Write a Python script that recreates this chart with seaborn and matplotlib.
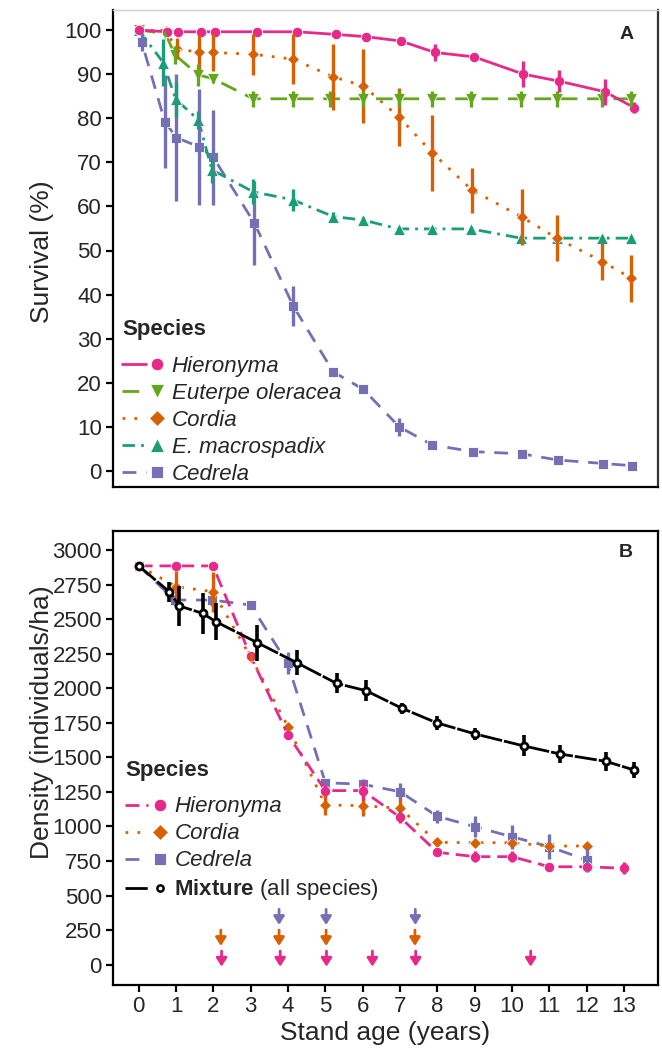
import numpy as np
import pandas as pd
import matplotlib
matplotlib.use("Agg")
import matplotlib.pyplot as plt
import seaborn as sns
from matplotlib.lines import Line2D
from matplotlib.legend_handler import HandlerTuple

sns.set_theme(style="ticks")
plt.rcParams['font.family'] = ['Liberation Sans', 'DejaVu Sans']
plt.rcParams['mathtext.fontset'] = 'custom'
plt.rcParams['mathtext.rm'] = 'Liberation Sans'
plt.rcParams['mathtext.it'] = 'Liberation Sans:italic'
plt.rcParams['mathtext.bf'] = 'Liberation Sans:bold'

# ---------------- Panel A: survival (%) ----------------
hier_A_age = [0, 0.75, 1.06, 1.67, 2.04, 3.16, 4.23, 5.28, 6.08, 7.02, 7.94, 8.99, 10.30, 11.26, 12.49, 13.27]
hier_A_val = [100, 99.6, 99.6, 99.6, 99.6, 99.6, 99.6, 99.0, 98.5, 97.5, 94.9, 93.9, 90.0, 88.4, 86.0, 82.4]
hier_A_err = [0, 0.3, 0.3, 0.3, 0.3, 0.3, 0.3, 0.4, 0.5, 0.8, 2.0, 0.7, 2.9, 2.5, 2.9, 1.2]

eut_A_age = [0, 0.71, 0.98, 1.60, 1.98, 3.07, 4.13, 5.12, 6.02, 6.96, 7.85, 8.90, 10.24, 11.20, 12.42, 13.20]
eut_A_val = [100, 99.2, 94.3, 89.8, 89.0, 84.4, 84.4, 84.4, 84.4, 84.4, 84.4, 84.4, 84.4, 84.4, 84.4, 84.4]
eut_A_err = [0, 0.5, 2.0, 2.5, 1.0, 1.8, 1.8, 1.8, 1.8, 1.8, 1.8, 1.8, 1.8, 1.8, 1.8, 1.8]

cor_A_age = [0, 0.72, 1.02, 1.62, 1.98, 3.07, 4.13, 5.21, 6.02, 6.97, 7.86, 8.93, 10.26, 11.20, 12.42, 13.20]
cor_A_val = [100, 99.8, 95.8, 94.9, 94.9, 94.5, 93.4, 89.4, 87.3, 80.3, 72.2, 63.7, 57.6, 52.8, 47.5, 43.7]
cor_A_err = [0, 0.3, 2.3, 4.0, 4.3, 4.7, 5.7, 7.5, 8.5, 6.5, 8.6, 5.1, 6.3, 5.2, 4.2, 5.3]

mac_A_age = [0, 0.66, 0.99, 1.60, 1.96, 3.07, 4.13, 5.21, 6.02, 6.96, 7.85, 8.90, 10.24, 11.20, 12.42, 13.20]
mac_A_val = [100, 92.6, 84.3, 79.6, 68.3, 63.3, 61.5, 57.7, 56.9, 54.9, 54.9, 54.9, 52.8, 52.8, 52.8, 52.8]
mac_A_err = [0, 5.3, 4.0, 2.0, 3.0, 2.8, 2.5, 1.0, 0.8, 0.5, 0.5, 0.5, 0.5, 0.5, 0.5, 0.5]

ced_A_age = [0, 0.08, 0.70, 1.01, 1.62, 2.00, 3.10, 4.14, 5.21, 6.02, 6.98, 7.87, 8.95, 10.26, 11.22, 12.45, 13.22]
ced_A_val = [100, 97.3, 79.2, 75.6, 73.5, 71.1, 56.2, 37.4, 22.5, 18.5, 10.0, 5.9, 4.4, 3.9, 2.5, 1.7, 1.2]
ced_A_err = [0, 2.0, 10.6, 14.4, 13.2, 10.8, 9.6, 4.5, 0.8, 0.8, 2.0, 0.8, 0.6, 0.6, 0.6, 0.5, 0.5]

# ---------------- Panel B: density (individuals/ha) ----------------
mix_B_age = [0, 0.82, 1.09, 1.71, 2.07, 3.18, 4.23, 5.30, 6.09, 7.05, 7.98, 9.01, 10.32, 11.29, 12.51, 13.27]
mix_B_val = [2885, 2698, 2595, 2542, 2481, 2329, 2185, 2035, 1982, 1855, 1750, 1669, 1582, 1524, 1471, 1408]
mix_B_err = [0, 72, 145, 150, 133, 129, 90, 72, 76, 40, 51, 42, 76, 66, 69, 57]

hier_B_age = [0, 1.01, 1.99, 3.0, 4.0, 5.0, 6.0, 7.0, 8.0, 9.0, 10.0, 11.0, 12.0, 13.0]
hier_B_val = [2885, 2885, 2885, 2230, 1661, 1259, 1259, 1066, 813, 781, 781, 708, 708, 697]
hier_B_err = [0, 0, 0, 0, 30, 40, 66, 42, 30, 40, 40, 25, 25, 45]

cor_B_age = [0, 1.01, 1.99, 3.0, 4.0, 5.0, 6.0, 7.0, 8.0, 9.0, 10.0, 11.0, 12.0]
cor_B_val = [2885, 2735, 2698, 2226, 1721, 1155, 1150, 1131, 885, 882, 882, 858, 858]
cor_B_err = [0, 115, 145, 30, 30, 72, 72, 78, 30, 30, 30, 30, 25]

ced_B_age = [0, 0.97, 1.96, 3.0, 3.99, 5.0, 6.0, 7.0, 8.0, 9.0, 10.0, 11.0, 12.0]
ced_B_val = [2885, 2638, 2638, 2602, 2180, 1316, 1305, 1251, 1073, 998, 925, 853, 757]
ced_B_err = [0, 40, 40, 30, 80, 30, 40, 60, 48, 78, 85, 90, 85]

# thinning arrows (stand age, years)
arrow_hier = [2.22, 3.79, 5.03, 6.26, 7.42, 10.5]
arrow_cor = [2.20, 3.76, 5.02, 7.40]
arrow_ced = [3.76, 5.02, 7.41]

x_ticks = list(range(0, 14))
yA_ticks = list(range(0, 101, 10))
yB_ticks = list(range(0, 3001, 250))

PINK, GREEN, ORANGE, TEAL, PURPLE = "#E7298A", "#66A61E", "#D95F02", "#1B9E77", "#7570B3"

fig = plt.figure(figsize=(6.62, 10.51), dpi=100)
W, H = 662, 1051
left, right = 113, 657.7
axA = fig.add_axes([left / W, 1 - 487 / H, (right - left) / W, (487 - 10) / H])
axB = fig.add_axes([left / W, 1 - 985 / H, (right - left) / W, (985 - 530.7) / H])

LW = 2.0

def draw(ax, age, val, err, color, marker, ms, ls, elw=2.4, **extra):
    df = pd.DataFrame({"age": age, "val": val})
    sns.lineplot(data=df, x="age", y="val", color=color, marker=marker, markersize=ms,
                 linestyle=ls, linewidth=LW, errorbar=None, legend=False, ax=ax,
                 markeredgewidth=0.6, markeredgecolor="white", **extra)
    e = np.array(err, dtype=float)
    ax.errorbar(age, val, yerr=e, fmt="none", ecolor=color, elinewidth=elw, capsize=0, zorder=3)

ls_eut = (0, (6, 3.5))
ls_cor = (0, (1, 3.3))
ls_mac = (0, (4.5, 2.2, 1, 2.2))
ls_ced = (0, (5, 3.5))
ls_hier_B = (0, (5, 2.5))
ls_mix = (0, (8, 0.7))

# ---- panel A
draw(axA, ced_A_age, ced_A_val, ced_A_err, PURPLE, "s", 6.5, ls_ced)
draw(axA, mac_A_age, mac_A_val, mac_A_err, TEAL, "^", 8.5, ls_mac)
draw(axA, cor_A_age, cor_A_val, cor_A_err, ORANGE, "D", 6.5, ls_cor)
draw(axA, eut_A_age, eut_A_val, eut_A_err, GREEN, "v", 8.5, ls_eut)
draw(axA, hier_A_age, hier_A_val, hier_A_err, PINK, "o", 7.5, "-")

# ---- panel B
draw(axB, ced_B_age, ced_B_val, ced_B_err, PURPLE, "s", 6.5, ls_ced)
draw(axB, cor_B_age, cor_B_val, cor_B_err, ORANGE, "D", 6.5, ls_cor)
draw(axB, hier_B_age, hier_B_val, hier_B_err, PINK, "o", 7.5, ls_hier_B)
df_mix = pd.DataFrame({"age": mix_B_age, "val": mix_B_val})
axB.errorbar(mix_B_age, mix_B_val, yerr=mix_B_err, fmt="none", ecolor="black", elinewidth=2.6, capsize=0, zorder=3)
sns.lineplot(data=df_mix, x="age", y="val", color="black", marker="o", markersize=5,
             linestyle=ls_mix, linewidth=LW, errorbar=None, legend=False, ax=axB,
             markerfacecolor="white", markeredgecolor="black", markeredgewidth=2.0, zorder=4)

def arrows(ax, xs, ytail, ytip, color):
    for x in xs:
        ax.annotate("", xy=(x, ytip), xytext=(x, ytail),
                    arrowprops=dict(arrowstyle="-|>,head_length=0.55,head_width=0.35",
                                    color=color, lw=2.0, shrinkA=0, shrinkB=0,
                                    mutation_scale=9))

arrows(axB, arrow_ced, 400, 287, PURPLE)
arrows(axB, arrow_cor, 250, 135, ORANGE)
arrows(axB, arrow_hier, 98, -15, PINK)

# ---- axes styling
xlim = ((left - 138.7) / 37.33, (right - 138.7) / 37.33)
for ax in (axA, axB):
    ax.set_xlim(*xlim)
    ax.set_xticks(x_ticks)
    for s in ax.spines.values():
        s.set_linewidth(1.6)
        s.set_color("black")
    ax.tick_params(axis="both", length=5, width=1.6, labelsize=16, pad=3, color="black")
    ax.set_ylabel("")
    ax.set_xlabel("")

axA.spines["top"].set_color("#cfcfcf")
axA.spines["top"].set_linewidth(1.0)
axA.spines["right"].set_color("#333333")

axA.set_ylim((471 - 487) / 4.41, (471 - 10) / 4.41)
axA.set_yticks(yA_ticks)
axA.tick_params(axis="x", bottom=False, labelbottom=False)

axB.set_ylim((964.6 - 985) * 7.236, (964.6 - 530.7) * 7.236)
axB.set_yticks(yB_ticks)
axB.set_xticklabels([str(t) for t in x_ticks])
axB.set_xlabel("Stand age (years)", fontsize=19, labelpad=3)

fig.text(42 / W, 1 - 252 / H, "Survival (%)", rotation=90, ha="center", va="center", fontsize=19)
fig.text(42 / W, 1 - 722 / H, "Density (individuals/ha)", rotation=90, ha="center", va="center", fontsize=19)

axA.text(0.942, 0.948, "A", transform=axA.transAxes, ha="center", va="center", fontsize=14, fontweight="bold")
axB.text(0.942, 0.953, "B", transform=axB.transAxes, ha="center", va="center", fontsize=14, fontweight="bold")

def handle(color, marker, ms, ls, mfc=None, mec=None, mew=0.6):
    ln = Line2D([], [], color=color, linestyle=ls, linewidth=LW)
    mk = Line2D([], [], color=color, marker=marker, markersize=ms, linestyle="none",
                markerfacecolor=mfc if mfc else color, markeredgecolor=mec if mec else "white",
                markeredgewidth=mew)
    return (ln, mk)

leg_kw = dict(handler_map={tuple: HandlerTuple(ndivide=2, pad=0.0)}, frameon=False,
              title="Species", alignment="left", handlelength=2.1, handletextpad=0.12,
              labelspacing=0.27, borderpad=0.1,
              prop={"style": "italic", "size": 16},
              title_fontproperties={"weight": "bold", "size": 16})

hA = [handle(PINK, "o", 9, "-"), handle(GREEN, "v", 10, ls_eut), handle(ORANGE, "D", 8, ls_cor),
      handle(TEAL, "^", 10, ls_mac), handle(PURPLE, "s", 8, ls_ced)]
lA = ["Hieronyma", "Euterpe oleracea", "Cordia", "E. macrospadix", "Cedrela"]
legA = axA.legend(hA, lA, loc="lower left", bbox_to_anchor=(0.013, 0.0), borderaxespad=0.0, **leg_kw)
legA._legend_box.sep = 11

hB = [handle(PINK, "o", 9, ls_hier_B), handle(ORANGE, "D", 8, ls_cor), handle(PURPLE, "s", 8, ls_ced),
      handle("black", "o", 4.5, ls_mix, mfc="white", mec="black", mew=1.8)]
lB = ["Hieronyma", "Cordia", "Cedrela", r"$\mathbf{Mixture}$ (all species)"]
legB = axB.legend(hB, lB, loc="upper left", bbox_to_anchor=(0.018, 0.5), borderaxespad=0.0, **leg_kw)
legB._legend_box.sep = 11
legB.get_texts()[3].set_fontstyle("normal")

fig.savefig("out.png", dpi=100)
